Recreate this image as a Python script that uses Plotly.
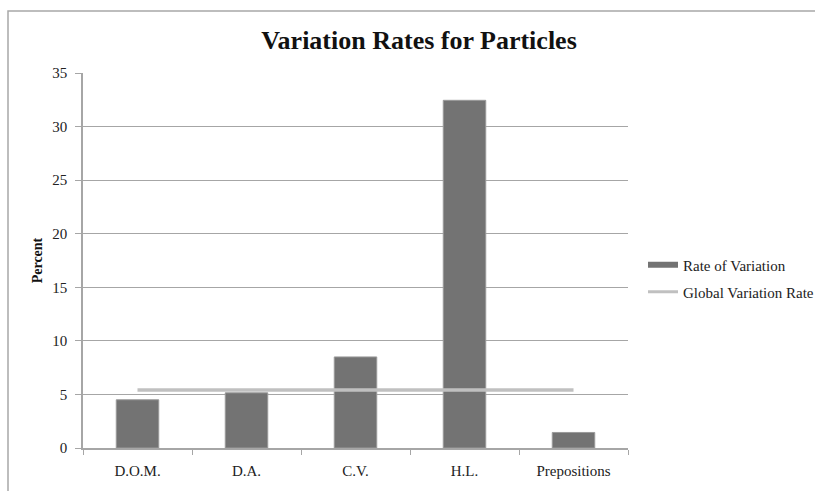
import plotly.graph_objects as go

categories = ["D.O.M.", "D.A.", "C.V.", "H.L.", "Prepositions"]
rate_of_variation = [4.5, 5.15, 8.5, 32.45, 1.45]
global_rate = [5.42, 5.42, 5.42, 5.42, 5.42]
y_ticks = [0, 5, 10, 15, 20, 25, 30, 35]

FONT = "Liberation Serif, Times New Roman, serif"
W, H = 815, 491
L, R, T, B = 83, 187, 73, 43
pw, ph = W - L - R, H - T - B
BAR_COLOR = "#737373"
LINE_COLOR = "#c0c0c0"

fig = go.Figure()
fig.add_trace(go.Bar(
    x=categories, y=rate_of_variation, name="Rate of Variation", showlegend=False,
    marker=dict(color=BAR_COLOR, line=dict(color="#9a9a9a", width=1)),
    width=0.39,
))
fig.add_trace(go.Scatter(
    x=categories, y=global_rate, name="Global Variation Rate", showlegend=False,
    mode="lines", line=dict(color=LINE_COLOR, width=3.5),
))
# legend entries (bar shown as a wide swatch)
fig.add_trace(go.Scatter(
    x=[None], y=[None], name="Rate of Variation", mode="lines",
    line=dict(color=BAR_COLOR, width=6), legend="legend",
))
fig.add_trace(go.Scatter(
    x=[None], y=[None], name="Global Variation Rate", mode="lines",
    line=dict(color=LINE_COLOR, width=3), legend="legend2",
))

leg_common = dict(x=(643 - L) / pw, xanchor="left", yanchor="middle",
                  font=dict(family=FONT, size=15, color="#222222"),
                  bgcolor="rgba(0,0,0,0)", itemwidth=30)

fig.update_layout(
    width=W, height=H,
    margin=dict(l=L, r=R, t=T, b=B, autoexpand=False),
    paper_bgcolor="white", plot_bgcolor="white",
    font=dict(family=FONT, size=15, color="#222222"),
    title=dict(text="<b>Variation Rates for Particles</b>", x=419 / W, xanchor="center",
               y=1 - 40 / H, yanchor="middle",
               font=dict(family=FONT, size=26, color="#111111")),
    showlegend=True,
    legend=dict(y=(448 - 265) / ph, **leg_common),
    legend2=dict(y=(448 - 292) / ph, **leg_common),
)
fig.update_xaxes(
    showgrid=False, showline=True, linecolor="#a6a6a6", linewidth=1.5,
    ticks="outside", tickson="boundaries", ticklen=5, tickcolor="#a6a6a6",
    tickfont=dict(family=FONT, size=15, color="#222222"), ticklabelstandoff=8,
)
fig.update_yaxes(
    range=[0, 35], tickvals=y_ticks, showgrid=True, gridcolor="#a6a6a6", gridwidth=1.2,
    showline=True, linecolor="#a6a6a6", linewidth=1.5,
    ticks="outside", ticklen=6, tickcolor="#a6a6a6",
    tickfont=dict(family=FONT, size=15, color="#222222"), zeroline=False,
    ticklabelstandoff=5,
    title=dict(text="<b>Percent</b>", font=dict(family=FONT, size=14, color="#111111"), standoff=6),
)
# outer chart frame
fig.add_shape(type="rect", xref="paper", yref="paper",
              x0=(8 - L) / pw, x1=1.6, y0=-0.5, y1=(448 - 11) / ph,
              line=dict(color="#a8a8a8", width=1.5), fillcolor="rgba(0,0,0,0)", layer="below")

fig.write_html("out.html")
